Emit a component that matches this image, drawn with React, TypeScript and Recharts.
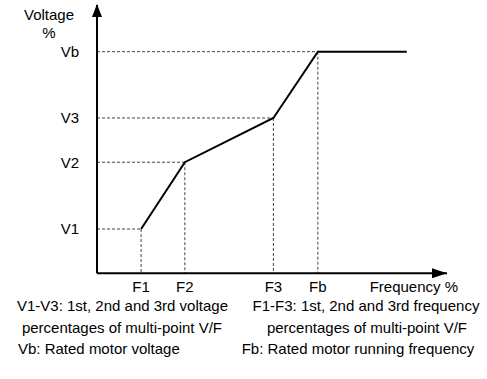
import React from 'react'
import {
  LineChart,
  Line,
  XAxis,
  YAxis,
  ReferenceLine,
  ReferenceDot,
} from 'recharts'

// multi-point V/F curve, axes are 0..100 (% of full scale)
const freqPoints = [12.6, 25.1, 50.4, 63.1, 88.5]
const voltPoints = [16.5, 41.4, 57.9, 82.6, 82.6]
const freqTickLabels = ['F1', 'F2', 'F3', 'Fb']
const voltTickLabels = ['V1', 'V2', 'V3', 'Vb']
const captionLeft = ['V1-V3: 1st, 2nd and 3rd voltage', 'percentages of multi-point V/F', 'Vb: Rated motor voltage']
const captionRight = ['F1-F3: 1st, 2nd and 3rd frequency', 'percentages of multi-point V/F', 'Fb: Rated motor running frequency']

const freqTicks = freqPoints.slice(0, 4)
const voltTicks = voltPoints.slice(0, 4)
const data = freqPoints.map((f, i) => ({ f, v: voltPoints[i] }))

const FONT = '"Liberation Sans", Arial, Helvetica, sans-serif'
const DASH = { stroke: '#444', strokeWidth: 1, strokeDasharray: '3 2' }

function UpArrow(props: any) {
  const { cx, cy } = props
  return <path d={`M${cx} ${cy - 1} L${cx - 5} ${cy + 12} L${cx + 5} ${cy + 12} Z`} fill="#000" />
}

function RightArrow(props: any) {
  const { cx, cy } = props
  return <path d={`M${cx} ${cy} L${cx - 15} ${cy - 5} L${cx - 15} ${cy + 5} Z`} fill="#000" />
}

function VoltageLabel(props: any) {
  const vb = props.viewBox
  const cx = vb.x + vb.width - 48
  return (
    <g fontFamily={FONT} fontSize={15} fill="#000">
      <text x={cx} y={vb.y + 14.5} textAnchor="middle">Voltage</text>
      <text x={cx} y={vb.y + 32.5} textAnchor="middle">%</text>
    </g>
  )
}

function FreqLabel(props: any) {
  const vb = props.viewBox
  return (
    <text x={vb.x + vb.width + 11} y={vb.y + 18.5} textAnchor="end" fontFamily={FONT} fontSize={15} fill="#000">
      Frequency %
    </text>
  )
}

const captionStyle: React.CSSProperties = {
  position: 'absolute',
  fontFamily: FONT,
  fontSize: 15,
  lineHeight: '15px',
  color: '#000',
  whiteSpace: 'nowrap',
}

export default function App() {
  return (
    <div style={{ position: 'absolute', left: 0, top: 0, width: 487, height: 379, background: '#fff' }}>
      <LineChart
        width={487}
        height={379}
        data={data}
        margin={{ top: 5, right: 40, bottom: 75.7, left: 57 }}
      >
        <XAxis
          type="number"
          dataKey="f"
          domain={[0, 100]}
          ticks={freqTicks}
          tickFormatter={(v) => freqTickLabels[freqTicks.indexOf(v)]}
          axisLine={{ stroke: '#000', strokeWidth: 2 }}
          tickLine={false}
          tickSize={6}
          tickMargin={2}
          height={30}
          tick={{ fill: '#000', fontSize: 15, fontFamily: FONT }}
          label={{ content: FreqLabel }}
        />
        <YAxis
          type="number"
          dataKey="v"
          domain={[0, 100]}
          ticks={voltTicks}
          tickFormatter={(v) => voltTickLabels[voltTicks.indexOf(v)]}
          axisLine={{ stroke: '#000', strokeWidth: 2 }}
          tickLine={false}
          tickSize={6}
          tickMargin={12}
          width={40}
          tick={{ fill: '#000', fontSize: 15, fontFamily: FONT }}
          label={{ content: VoltageLabel }}
        />
        {freqTicks.map((f, i) => (
          <ReferenceLine
            key={'h' + i}
            segment={[{ x: 0, y: voltTicks[i] }, { x: f, y: voltTicks[i] }]}
            {...DASH}
          />
        ))}
        {freqTicks.map((f, i) => (
          <ReferenceLine
            key={'v' + i}
            segment={[{ x: f, y: voltTicks[i] }, { x: f, y: 0 }]}
            {...DASH}
          />
        ))}
        <Line
          type="linear"
          dataKey="v"
          stroke="#000"
          strokeWidth={2}
          dot={false}
          isAnimationActive={false}
        />
        <ReferenceDot x={0} y={100} ifOverflow="visible" shape={UpArrow} />
        <ReferenceDot x={100} y={0} ifOverflow="visible" shape={RightArrow} />
      </LineChart>
      <div style={{ ...captionStyle, left: 0, width: 245, top: 298, textAlign: 'center' }}>{captionLeft[0]}</div>
      <div style={{ ...captionStyle, left: 0, width: 244, top: 319.6, textAlign: 'center' }}>{captionLeft[1]}</div>
      <div style={{ ...captionStyle, left: 18, top: 341.3 }}>{captionLeft[2]}</div>
      <div style={{ ...captionStyle, left: 216, width: 300, top: 298, textAlign: 'center' }}>{captionRight[0]}</div>
      <div style={{ ...captionStyle, left: 217, width: 300, top: 319.6, textAlign: 'center' }}>{captionRight[1]}</div>
      <div style={{ ...captionStyle, left: 241.7, top: 341.3 }}>{captionRight[2]}</div>
    </div>
  )
}
